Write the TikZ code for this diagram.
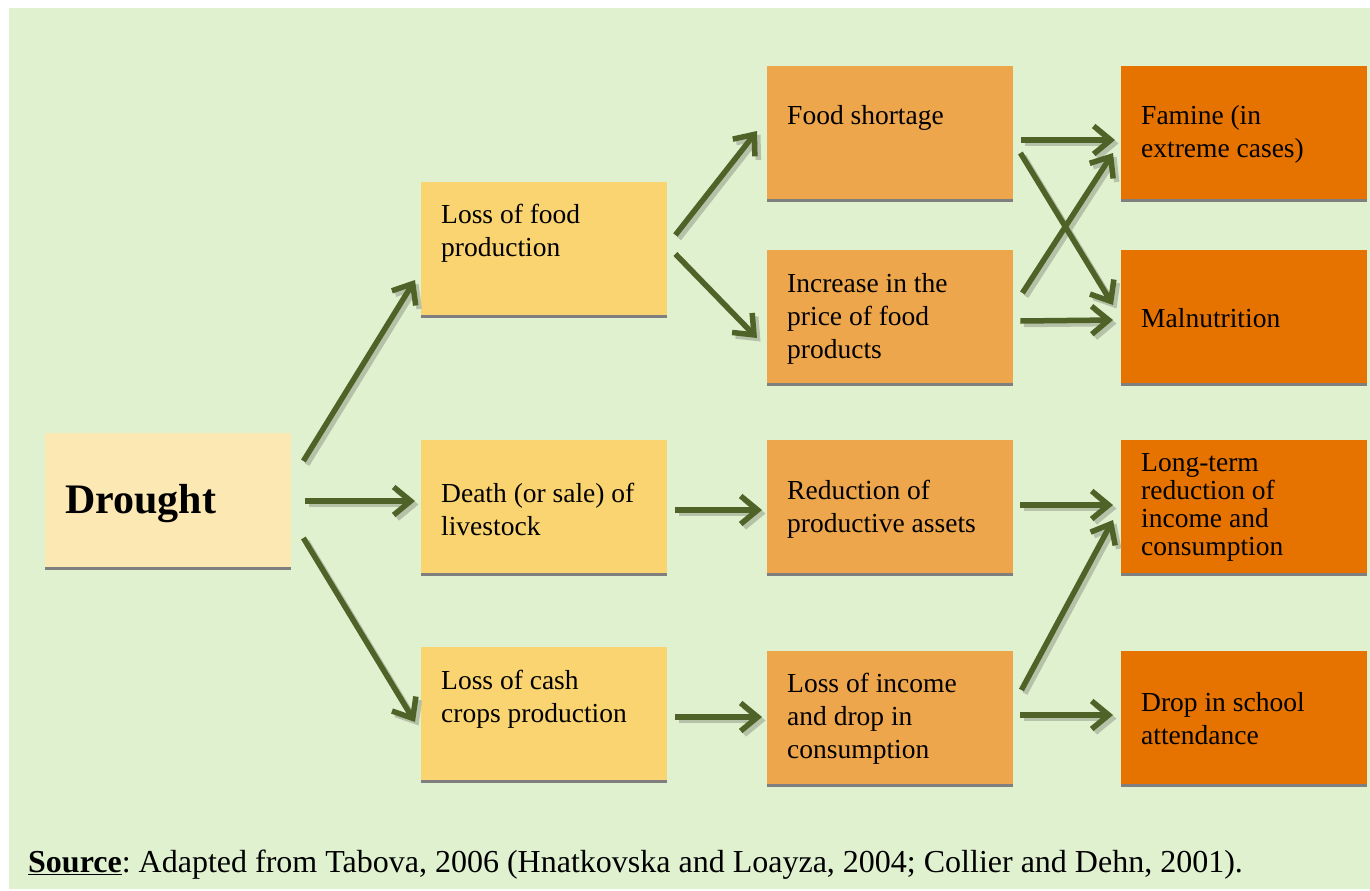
\documentclass[tikz,border=0pt]{standalone}
\usepackage{fontspec}
\setmainfont{Liberation Serif}
\usetikzlibrary{arrows.meta,calc}
\frenchspacing
\definecolor{bgc}{HTML}{E0F1D0}
\definecolor{drc}{HTML}{FCE8B2}
\definecolor{c2c}{HTML}{FAD470}
\definecolor{c3c}{HTML}{EEA64C}
\definecolor{c4c}{HTML}{E67300}
\definecolor{arc}{HTML}{4F6228}
\definecolor{shc}{HTML}{B5C2A8}
\definecolor{grc}{HTML}{7F7F7F}
\tikzset{
  boxn/.style={rectangle, draw=none, inner sep=0pt, anchor=north west, minimum width=246pt, minimum height=134pt},
  txt/.style={anchor=west, inner sep=0pt, align=left, font=\fontsize{27.5}{33}\selectfont},
  under/.style={draw=grc, line width=3pt},
  arr/.style={draw=arc, line width=5.5pt, -{Straight Barb[length=17pt,width=28pt]}},
  shd/.style={draw=shc, line width=5.5pt, -{Straight Barb[length=17pt,width=28pt]}},
}
\newcommand{\mybox}[6]{%
  \node[boxn, fill=#4] (#1) at (#2,#3) {};
  \draw[under] (#1.south west) -- (#1.south east);
  \node[txt] (#1t) at (#2+20,#5+3) {#6};
}
% #1 from node, #2 offset, #3 to node, #4 offset
\newcommand{\arw}[4]{%
  \draw[shd] ($(#1.north east)+#2+(3.5,3.5)$) -- ($(#3.north west)+#4+(3.5,3.5)$);
}
\newcommand{\arwb}[4]{%
  \draw[arr] ($(#1.north east)+#2$) -- ($(#3.north west)+#4$);
}
\begin{document}
\begin{tikzpicture}[x=1pt,y=-1pt]
\useasboundingbox (0,0) rectangle (1370,891);
\fill[bgc] (9,8) rectangle (1370,889);
% boxes
\node[boxn, fill=drc, minimum height=135pt] (b0) at (45,433) {};
\draw[under] (b0.south west) -- (b0.south east);
\node[anchor=west, inner sep=0pt, font=\fontsize{42}{48}\selectfont\bfseries] (b0t) at (65,504) {Drought};
\mybox{b1}{421}{182}{c2c}{230.5}{Loss of food\\production}
\mybox{b2}{421}{440}{c2c}{506}{Death (or sale) of\\livestock}
\mybox{b3}{421}{647}{c2c}{696}{Loss of cash\\crops production}
\mybox{c1}{767}{66}{c3c}{115}{Food shortage}
\mybox{c2}{767}{250}{c3c}{315.5}{Increase in the\\price of food\\products}
\mybox{c3}{767}{440}{c3c}{506}{Reduction of\\productive assets}
\mybox{c4}{767}{651}{c3c}{716}{Loss of income\\and drop in\\consumption}
\mybox{d1}{1121}{66}{c4c}{131.5}{Famine (in\\extreme cases)}
\mybox{d2}{1121}{250}{c4c}{315}{Malnutrition}
\node[boxn, fill=c4c] (d3) at (1121,440) {};
\draw[under] (d3.south west) -- (d3.south east);
\node[txt, font=\fontsize{27.5}{28}\selectfont] (d3t) at (1141,507) {Long-term\\reduction of\\income and\\consumption};
\mybox{d4}{1121}{651}{c4c}{715.5}{Drop in school\\attendance}
% arrow shadows
\arw{b0}{(12,28)}{b1}{(-6,98)}
\arw{b0}{(14,68)}{b2}{(-6,61)}
\arw{b0}{(12,105)}{b3}{(-6,75)}
\arw{b1}{(8,53)}{c1}{(-10,65)}
\arw{b1}{(8,72)}{c2}{(-10,88)}
\arw{c1}{(8,74)}{d1}{(-6,74)}
\arw{c1}{(7,87)}{d2}{(-8,55)}
\arw{c2}{(9,43)}{d1}{(-8,87)}
\arw{c2}{(7,71)}{d2}{(-8,70)}
\arw{b2}{(8,70)}{c3}{(-5,70)}
\arw{c3}{(7,65)}{d3}{(-8,65)}
\arw{b3}{(8,70)}{c4}{(-5,66)}
\arw{c4}{(8,39)}{d3}{(-8,80)}
\arw{c4}{(7,64)}{d4}{(-8,64)}
% arrows
\arwb{b0}{(12,28)}{b1}{(-6,98)}
\arwb{b0}{(14,68)}{b2}{(-6,61)}
\arwb{b0}{(12,105)}{b3}{(-6,75)}
\arwb{b1}{(8,53)}{c1}{(-10,65)}
\arwb{b1}{(8,72)}{c2}{(-10,88)}
\arwb{c1}{(8,74)}{d1}{(-6,74)}
\arwb{c1}{(7,87)}{d2}{(-8,55)}
\arwb{c2}{(9,43)}{d1}{(-8,87)}
\arwb{c2}{(7,71)}{d2}{(-8,70)}
\arwb{b2}{(8,70)}{c3}{(-5,70)}
\arwb{c3}{(7,65)}{d3}{(-8,65)}
\arwb{b3}{(8,70)}{c4}{(-5,66)}
\arwb{c4}{(8,39)}{d3}{(-8,80)}
\arwb{c4}{(7,64)}{d4}{(-8,64)}
% source
\node[anchor=base west, inner sep=0pt, font=\fontsize{32}{36}\selectfont] (src) at (28,872) {\textbf{\underline{Source}}: Adapted from Tabova, 2006 (Hnatkovska and Loayza, 2004; Collier and Dehn, 2001).};
\end{tikzpicture}
\end{document}
